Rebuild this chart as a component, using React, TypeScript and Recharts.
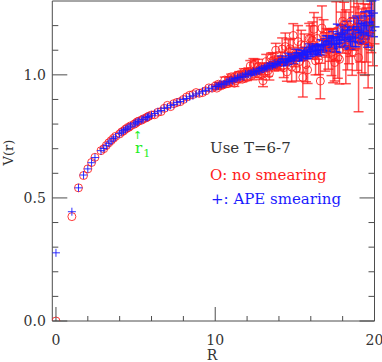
import React from 'react';
import { ScatterChart, Scatter, XAxis, YAxis, ErrorBar } from 'recharts';

// Separation R (lattice units)
const R_VALUES = [
  0, 1, 1.414, 1.732, 2, 2.236, 2.449, 2.828, 3, 3.162,
  3.317, 3.464, 3.606, 3.742, 4, 4.123, 4.243, 4.359, 4.472, 4.583,
  4.69, 4.899, 5, 5.099, 5.196, 5.385, 5.477, 5.657, 5.745, 5.831,
  6,
  6.2, 6.4, 6.6, 6.8, 7, 7.2, 7.4, 7.6, 7.8, 8,
  8.2, 8.4, 8.6, 8.8, 9, 9.2, 9.4, 9.6, 9.8, 10,
  10.1, 10.2, 10.3, 10.4, 10.5, 10.6, 10.7, 10.8, 10.9, 11,
  11.1, 11.2, 11.3, 11.4, 11.5, 11.6, 11.7, 11.8, 11.9, 12,
  12.1, 12.2, 12.3, 12.4, 12.5, 12.6, 12.7, 12.8, 12.9, 13,
  13.1, 13.2, 13.3, 13.4, 13.5, 13.6, 13.7, 13.8, 13.9, 14,
  14.1, 14.2, 14.3, 14.4, 14.5, 14.6, 14.7, 14.8, 14.9, 15,
  15.1, 15.2, 15.3, 15.4, 15.5, 15.6, 15.7, 15.8, 15.9, 16,
  16.1, 16.2, 16.3, 16.4, 16.5, 16.6, 16.7, 16.8, 16.9, 17,
  17.1, 17.2, 17.3, 17.4, 17.5, 17.6, 17.7, 17.8, 17.9, 18,
  18.1, 18.2, 18.3, 18.4, 18.5, 18.6, 18.7, 18.8, 18.9, 19,
  19.1, 19.2, 19.3, 19.4, 19.5, 19.6, 19.7, 19.8, 19.9, 20,
];

// "no smearing" potential V(r)
const NO_SMEAR_V = [
  0, 0.424, 0.541, 0.591, 0.618, 0.644, 0.665, 0.692, 0.700, 0.713,
  0.724, 0.733, 0.742, 0.750, 0.760, 0.768, 0.772, 0.779, 0.784, 0.787,
  0.793, 0.799, 0.803, 0.809, 0.812, 0.816, 0.821, 0.825, 0.829, 0.832,
  0.837,
  0.838, 0.848, 0.851, 0.864, 0.876, 0.871, 0.883, 0.888, 0.891, 0.900,
  0.910, 0.917, 0.920, 0.928, 0.925, 0.928, 0.935, 0.947, 0.946, 0.954,
  0.946, 0.962, 0.957, 0.957, 0.959, 0.979, 0.964, 0.964, 0.982, 0.992,
  0.981, 0.966, 0.976, 0.998, 1.001, 0.989, 0.982, 1.011, 1.007, 0.989,
  1.013, 1.036, 0.998, 1.041, 1.043, 1.006, 1.035, 1.024, 1.000, 0.976,
  1.031, 1.053, 1.016, 1.005, 1.068, 1.057, 1.040, 1.100, 1.045, 1.047,
  1.058, 1.105, 1.029, 1.115, 1.012, 1.093, 1.106, 1.031, 1.160, 1.069,
  1.027, 1.135, 1.054, 1.123, 0.990, 1.120, 1.042, 1.020, 1.147, 1.149,
  1.140, 1.185, 1.057, 1.148, 1.061, 0.975, 1.190, 1.158, 1.093, 1.130,
  1.103, 1.120, 1.092, 1.078, 1.050, 1.177, 1.071, 1.063, 1.185, 1.218,
  1.205, 1.114, 1.100, 1.150, 1.215, 1.093, 1.220, 1.191, 1.178, 1.070,
  1.152, 1.138, 1.235, 1.143, 1.162, 1.117, 1.213, 1.215, 1.187, 1.236,
];

const NO_SMEAR_ERR = [
  0, 0, 0, 0, 0, 0, 0, 0, 0, 0,
  0, 0, 0, 0, 0, 0, 0, 0, 0, 0,
  0, 0, 0, 0, 0, 0, 0, 0, 0, 0,
  0,
  0, 0, 0, 0, 0, 0, 0, 0, 0, 0,
  0, 0, 0, 0, 0, 0, 0, 0, 0, 0,
  0.006, 0.008, 0.010, 0.007, 0.009, 0.012, 0.008, 0.006, 0.010, 0.011,
  0.009, 0.013, 0.008, 0.010, 0.012, 0.009, 0.011, 0.014, 0.010, 0.012,
  0.015, 0.022, 0.018, 0.025, 0.020, 0.017, 0.028, 0.021, 0.019, 0.024,
  0.018, 0.030, 0.022, 0.026, 0.020, 0.033, 0.024, 0.028, 0.021, 0.030,
  0.035, 0.045, 0.040, 0.055, 0.038, 0.050, 0.042, 0.060, 0.048, 0.036,
  0.052, 0.065, 0.044, 0.058, 0.080, 0.046, 0.070, 0.055, 0.062, 0.050,
  0.075, 0.068, 0.057, 0.085, 0.060, 0.072, 0.090, 0.066, 0.078, 0.058,
  0.080, 0.065, 0.095, 0.110, 0.075, 0.120, 0.085, 0.100, 0.070, 0.130,
  0.090, 0.150, 0.080, 0.105, 0.140, 0.095, 0.120, 0.085, 0.160, 0.220,
  0.100, 0.130, 0.090, 0.145, 0.110, 0.170, 0.095, 0.125, 0.150, 0.110,
];

// "APE smearing" potential V(r)
const APE_V = [
  0.277, 0.444, 0.541, 0.593, 0.618, 0.643, 0.664, 0.692, 0.701, 0.712,
  0.722, 0.731, 0.741, 0.748, 0.761, 0.767, 0.773, 0.778, 0.783, 0.788,
  0.792, 0.800, 0.804, 0.808, 0.811, 0.817, 0.820, 0.826, 0.828, 0.831,
  0.836,
  0.843, 0.850, 0.855, 0.864, 0.868, 0.876, 0.880, 0.888, 0.892, 0.900,
  0.904, 0.911, 0.915, 0.922, 0.926, 0.933, 0.936, 0.943, 0.946, 0.953,
  0.953, 0.955, 0.962, 0.960, 0.963, 0.963, 0.970, 0.973, 0.974, 0.979,
  0.975, 0.985, 0.983, 0.989, 0.989, 0.991, 0.995, 0.992, 1.003, 1.001,
  1.003, 1.002, 1.008, 1.014, 1.011, 1.014, 1.017, 1.018, 1.025, 1.024,
  1.028, 1.029, 1.033, 1.039, 1.038, 1.036, 1.046, 1.042, 1.046, 1.053,
  1.051, 1.064, 1.048, 1.051, 1.053, 1.072, 1.066, 1.071, 1.060, 1.068,
  1.086, 1.078, 1.073, 1.072, 1.080, 1.096, 1.080, 1.085, 1.109, 1.095,
  1.110, 1.105, 1.099, 1.100, 1.102, 1.102, 1.117, 1.120, 1.122, 1.136,
  1.134, 1.125, 1.128, 1.141, 1.122, 1.124, 1.166, 1.140, 1.165, 1.173,
  1.153, 1.150, 1.180, 1.150, 1.135, 1.155, 1.184, 1.149, 1.195, 1.181,
  1.172, 1.174, 1.166, 1.201, 1.199, 1.162, 1.215, 1.240, 1.203, 1.250,
];

const APE_ERR = [
  0, 0, 0, 0, 0, 0, 0, 0, 0, 0,
  0, 0, 0, 0, 0, 0, 0, 0, 0, 0,
  0, 0, 0, 0, 0, 0, 0, 0, 0, 0,
  0,
  0, 0, 0, 0, 0, 0, 0, 0, 0, 0,
  0, 0, 0, 0, 0, 0, 0, 0, 0, 0,
  0, 0, 0, 0, 0, 0, 0, 0, 0, 0,
  0, 0, 0, 0, 0, 0, 0, 0, 0, 0,
  0.005, 0.004, 0.006, 0.005, 0.007, 0.004, 0.006, 0.008, 0.005, 0.007,
  0.006, 0.008, 0.005, 0.007, 0.009, 0.006, 0.008, 0.007, 0.010, 0.008,
  0.010, 0.012, 0.009, 0.014, 0.011, 0.016, 0.012, 0.010, 0.015, 0.013,
  0.018, 0.012, 0.016, 0.014, 0.020, 0.015, 0.013, 0.019, 0.017, 0.022,
  0.016, 0.020, 0.018, 0.024, 0.019, 0.022, 0.026, 0.020, 0.025, 0.023,
  0.025, 0.030, 0.022, 0.035, 0.028, 0.032, 0.040, 0.027, 0.036, 0.030,
  0.042, 0.033, 0.038, 0.045, 0.031, 0.040, 0.048, 0.035, 0.044, 0.050,
  0.038, 0.046, 0.042, 0.055, 0.040, 0.050, 0.045, 0.060, 0.048, 0.055,
];

const X_TICKS = [0, 2, 4, 6, 8, 10, 12, 14, 16, 18, 20];
const X_MAJOR = [0, 10, 20];
const Y_TICKS = [0, 0.1, 0.2, 0.3, 0.4, 0.5, 0.6, 0.7, 0.8, 0.9, 1.0, 1.1, 1.2];
const Y_MAJOR = [0, 0.5, 1.0];

const X_DOMAIN: [number, number] = [-0.23, 20];
const Y_DOMAIN: [number, number] = [0, 1.3];

const noSmearData = R_VALUES.map((r, i) => ({ r, v: NO_SMEAR_V[i], err: NO_SMEAR_ERR[i] }));
const apeData = R_VALUES.map((r, i) => ({ r, v: APE_V[i], err: APE_ERR[i] }));

const AXIS = '#4d4d4d';
const TEXT = '#333333';
const FONT = '"DejaVu Serif", serif';
const RED = '#ff1a1a';
const BLUE = '#1a1aff';
const GREEN = '#22ee22';

const isMajor = (v: number, list: number[]) => list.some((m) => Math.abs(m - v) < 1e-6);

const BottomTick = (p: any) => {
  const { x, y, payload } = p;
  const major = isMajor(payload.value, X_MAJOR);
  return (
    <g>
      <line x1={x} x2={x} y1={y} y2={y - (major ? 14 : 5)} stroke={AXIS} strokeWidth={1} />
      {major && (
        <text x={x} y={y + 24} textAnchor="middle" fontFamily={FONT} fontSize={14} fill={TEXT}>
          {payload.value}
        </text>
      )}
    </g>
  );
};

const TopTick = (p: any) => {
  const { x, y, payload } = p;
  const major = isMajor(payload.value, X_MAJOR);
  return <line x1={x} x2={x} y1={y} y2={y + (major ? 14 : 5)} stroke={AXIS} strokeWidth={1} />;
};

const LeftTick = (p: any) => {
  const { x, y, payload } = p;
  const major = isMajor(payload.value, Y_MAJOR);
  return (
    <g>
      <line x1={x} x2={x + (major ? 15 : 6)} y1={y} y2={y} stroke={AXIS} strokeWidth={1} />
      {major && (
        <text x={x - 6.5} y={y + 5} textAnchor="end" fontFamily={FONT} fontSize={14} fill={TEXT}>
          {Number(payload.value).toFixed(1)}
        </text>
      )}
    </g>
  );
};

const RightTick = (p: any) => {
  const { x, y, payload } = p;
  const major = isMajor(payload.value, Y_MAJOR);
  return <line x1={x} x2={x - (major ? 15 : 6)} y1={y} y2={y} stroke={AXIS} strokeWidth={1} />;
};

const Circle = (p: any) => (
  <circle cx={p.cx} cy={p.cy} r={4} fill="none" stroke={RED} strokeOpacity={0.85} strokeWidth={1} />
);

const Plus = (p: any) => (
  <path
    d={`M${p.cx - 4},${p.cy}h8M${p.cx},${p.cy - 4}v8`}
    fill="none"
    stroke={BLUE}
    strokeOpacity={0.9}
    strokeWidth={1}
  />
);

export default function App() {
  return (
    <div style={{ position: 'absolute', left: 0, top: 0, width: 382, height: 362, background: '#fff' }}>
      <ScatterChart width={382} height={362} margin={{ top: 0, right: 6.5, bottom: 0, left: 0 }}>
        <XAxis
          xAxisId={0}
          dataKey="r"
          type="number"
          domain={X_DOMAIN}
          allowDataOverflow
          ticks={X_TICKS}
          interval={0}
          height={41}
          tickSize={0}
          tickMargin={0}
          tickLine={false}
          axisLine={{ stroke: AXIS }}
          tick={<BottomTick />}
        />
        <XAxis
          xAxisId="top"
          orientation="top"
          type="number"
          domain={X_DOMAIN}
          allowDataOverflow
          ticks={X_TICKS}
          interval={0}
          height={1}
          tickSize={0}
          tickMargin={0}
          tickLine={false}
          axisLine={{ stroke: AXIS }}
          tick={<TopTick />}
        />
        <YAxis
          yAxisId={0}
          dataKey="v"
          type="number"
          domain={Y_DOMAIN}
          allowDataOverflow
          ticks={Y_TICKS}
          interval={0}
          width={52.3}
          tickSize={0}
          tickMargin={0}
          tickLine={false}
          axisLine={{ stroke: AXIS }}
          tick={<LeftTick />}
        />
        <YAxis
          yAxisId="right"
          orientation="right"
          type="number"
          domain={Y_DOMAIN}
          allowDataOverflow
          ticks={Y_TICKS}
          interval={0}
          width={1}
          tickSize={0}
          tickMargin={0}
          tickLine={false}
          axisLine={{ stroke: AXIS }}
          tick={<RightTick />}
        />
        <Scatter
          name="no smearing"
          data={noSmearData}
          xAxisId={0}
          yAxisId={0}
          shape={<Circle />}
          isAnimationActive={false}
        >
          <ErrorBar dataKey="err" direction="y" width={5} stroke={RED} strokeOpacity={0.75} isAnimationActive={false} />
        </Scatter>
        <Scatter
          name="APE smearing"
          data={apeData}
          xAxisId={0}
          yAxisId={0}
          shape={<Plus />}
          isAnimationActive={false}
        >
          <ErrorBar dataKey="err" direction="y" width={5} stroke={BLUE} strokeOpacity={0.85} isAnimationActive={false} />
        </Scatter>
      </ScatterChart>
      <svg
        width={382}
        height={362}
        style={{ position: 'absolute', left: 0, top: 0, pointerEvents: 'none' }}
      >
        <text transform="translate(13,152.5) rotate(-90)" textAnchor="middle" fontFamily={FONT} fontSize={13} fill={TEXT}>
          V(r)
        </text>
        <text x={212} y={359.5} textAnchor="middle" fontFamily={FONT} fontSize={14} fill={TEXT}>
          R
        </text>
        <text x={210} y={153.3} fontFamily={FONT} fontSize={15} fill={TEXT}>
          Use T=6-7
        </text>
        <text x={210} y={179.5} fontFamily={FONT} fontSize={15} fill={RED}>
          O: no smearing
        </text>
        <text x={211} y={204} fontFamily={FONT} fontSize={15} fill={BLUE}>
          +: APE smearing
        </text>
        <text x={137.5} y={139} textAnchor="middle" fontFamily='"DejaVu Sans", sans-serif' fontSize={11} fill={GREEN}>
          ↑
        </text>
        <text x={135} y={152.7} fontFamily={FONT} fontSize={15} fill={GREEN}>
          r
        </text>
        <text x={143.3} y={156.7} fontFamily={FONT} fontSize={11} fill={GREEN}>
          1
        </text>
      </svg>
    </div>
  );
}
